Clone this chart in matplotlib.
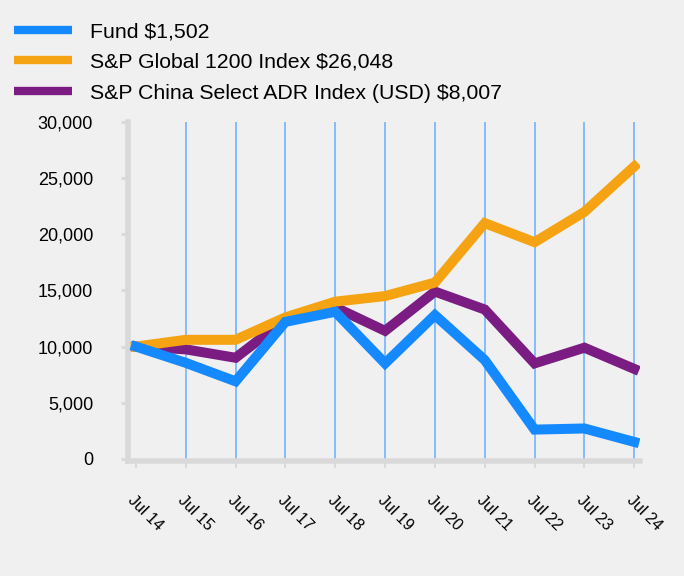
import numpy as np
import matplotlib.pyplot as plt

plt.rcParams['font.family'] = ['Liberation Sans', 'DejaVu Sans']

years = ['Jul 14', 'Jul 15', 'Jul 16', 'Jul 17', 'Jul 18', 'Jul 19',
         'Jul 20', 'Jul 21', 'Jul 22', 'Jul 23', 'Jul 24']
fund = [10000, 8550, 6900, 12200, 13100, 8500, 12800, 8800, 2600, 2700, 1502]
global1200 = [10000, 10600, 10600, 12600, 14000, 14500, 15700, 21000, 19300, 22000, 26048]
china_adr = [10000, 9750, 9000, 12400, 13500, 11400, 14900, 13300, 8500, 9900, 8007]

names = ['Fund $1,502', 'S&P Global 1200 Index $26,048',
         'S&P China Select ADR Index (USD) $8,007']
colors = ['#1589ff', '#f5a312', '#7b1c82']

bg = '#f0f0f0'
fig = plt.figure(figsize=(6.84, 5.76), dpi=100, facecolor=bg)
ax = fig.add_axes([0.187, 0.2, 0.749, 0.588], facecolor=bg)

x = np.arange(len(years))
# draw order: purple under orange under blue
h3, = ax.plot(x, china_adr, color=colors[2], lw=7.2, solid_joinstyle='miter', zorder=3)
h2, = ax.plot(x, global1200, color=colors[1], lw=7.2, solid_joinstyle='miter', zorder=4)
h1, = ax.plot(x, fund, color=colors[0], lw=7.2, solid_joinstyle='miter', zorder=5)

for xi in x[1:]:
    ax.axvline(xi, color='#72b3ff', lw=1.2, zorder=1)

ax.set_xlim(-0.16, 10.12)
ax.set_ylim(-180, 30000)
ax.set_yticks(np.arange(0, 30001, 5000))
ax.set_yticklabels([f'{v:,}' for v in range(0, 30001, 5000)], fontsize=13)
ax.set_xticks(x)
ax.set_xticklabels(years, rotation=-45, ha='left', va='top', fontsize=11.5,
                   rotation_mode='anchor')

for s in ['top', 'right']:
    ax.spines[s].set_visible(False)
for s in ['left', 'bottom']:
    ax.spines[s].set_color('#d9d9d9')
    ax.spines[s].set_linewidth(4)
ax.tick_params(axis='y', color='#d9d9d9', length=5, width=2, pad=20)
ax.tick_params(axis='x', color='#d9d9d9', length=5, width=1.5, pad=18)

leg = fig.legend([h1, h2, h3], names, loc='upper left', bbox_to_anchor=(-0.008, 0.995),
                 frameon=False, fontsize=15.3, handlelength=2.75, handletextpad=0.85,
                 labelspacing=0.56)
for line in leg.get_lines():
    line.set_linewidth(6)
    line.set_solid_capstyle('butt')

fig.savefig('out.png', dpi=100, facecolor=bg)
